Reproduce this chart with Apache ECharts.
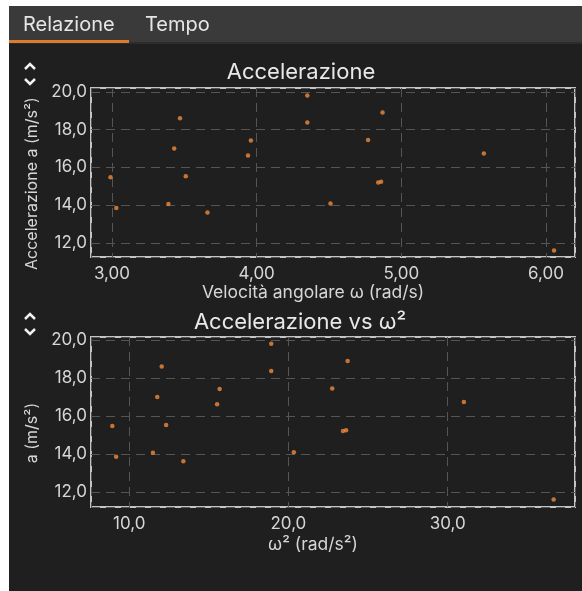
<!DOCTYPE html>
<html>
<head>
<meta charset="utf-8">
<script src="https://cdn.jsdelivr.net/npm/echarts@6/dist/echarts.min.js"></script>
<style>
  html, body { margin: 0; padding: 0; background: #fff; }
  #main { width: 582px; height: 591px; }
</style>
</head>
<body>
<div id="main"></div>
<script>
'use strict';
// values (omega in rad/s, a in m/s^2, omega^2 in rad^2/s^2)
const omega  = [2.99, 3.03, 3.47, 3.43, 3.51, 3.39, 3.66, 3.96, 3.94, 4.35, 4.35, 4.87, 4.77, 5.57, 4.84, 4.86, 4.51, 6.055];
const accel  = [15.47, 13.85, 18.60, 17.00, 15.52, 14.06, 13.61, 17.42, 16.62, 19.80, 18.37, 18.90, 17.45, 16.73, 15.20, 15.24, 14.08, 11.60];
const omega2 = [8.94, 9.18, 12.04, 11.76, 12.32, 11.49, 13.40, 15.68, 15.52, 18.92, 18.92, 23.72, 22.75, 31.02, 23.43, 23.62, 20.34, 36.66];
const tabs = ['Relazione', 'Tempo'];
const titles = ['Accelerazione', 'Accelerazione vs ω²'];

let dom = document.getElementById('main');
let myChart = echarts.init(dom, null, { renderer: 'canvas' });

const labelColor = '#d6d6d6';
const fontFamily = 'Inter, "Noto Sans", sans-serif';

function comma(d) {
    return function (v) { return v.toFixed(d).replace('.', ','); };
}

function axisX(idx, min, max, step, dec, name, gap, pad) {
    return {
        gridIndex: idx,
        type: 'value',
        min: min,
        max: max,
        minInterval: step,
        maxInterval: step,
        name: name,
        nameLocation: 'middle',
        nameGap: gap,
        nameTextStyle: { color: labelColor, fontSize: 17.5, fontFamily: fontFamily, padding: [0, pad, 0, 0] },
        axisLine: { show: false },
        axisTick: { show: false },
        axisLabel: { color: labelColor, fontSize: 17, fontFamily: fontFamily, margin: 8,
            showMinLabel: false, showMaxLabel: false, formatter: comma(dec) },
        splitLine: { show: true, lineStyle: { color: '#555', type: [9, 6], width: 1 } }
    };
}

function axisY(idx, min, max, name) {
    return {
        gridIndex: idx,
        type: 'value',
        min: min,
        max: max,
        minInterval: 2,
        maxInterval: 2,
        name: name,
        nameLocation: 'middle',
        nameGap: 48,
        nameTextStyle: { color: labelColor, fontSize: 16, fontFamily: fontFamily, padding: [0, 22, 0, 0] },
        axisLine: { show: false },
        axisTick: { show: false },
        axisLabel: { color: labelColor, fontSize: 17, fontFamily: fontFamily, margin: 4,
            showMinLabel: false, showMaxLabel: false, formatter: comma(1) },
        splitLine: { show: true, lineStyle: { color: '#555', type: [9, 6], width: 1 } }
    };
}

function chevrons(y) {
    return [
        { type: 'polyline', shape: { points: [[25, y + 3], [30, y - 2], [35, y + 3]] },
          style: { stroke: '#f2f2f2', lineWidth: 2.5, fill: null } },
        { type: 'polyline', shape: { points: [[25, y + 13], [30, y + 18], [35, y + 13]] },
          style: { stroke: '#f2f2f2', lineWidth: 2.5, fill: null } }
    ];
}

let option = {
    backgroundColor: '#ffffff',
    animation: false,
    graphic: [
        { type: 'rect', z: -10, shape: { x: 9, y: 6, width: 573, height: 585 }, style: { fill: '#1f1f1f' } },
        { type: 'rect', z: -9, shape: { x: 9, y: 6, width: 573, height: 36 }, style: { fill: '#3a3a3a' } },
        { type: 'rect', z: -9, shape: { x: 9, y: 42, width: 573, height: 2 }, style: { fill: '#2c2c2c' } },
        { type: 'rect', z: -8, shape: { x: 9, y: 40, width: 120, height: 3 }, style: { fill: '#e07a2c' } },
        { type: 'text', x: 23, y: 25, style: { text: tabs[0], fill: '#e6e6e6', font: '20px ' + fontFamily, textVerticalAlign: 'middle' } },
        { type: 'text', x: 145, y: 25, style: { text: tabs[1], fill: '#e6e6e6', font: '20px ' + fontFamily, textVerticalAlign: 'middle' } },
        { type: 'text', x: 301, y: 72, style: { text: titles[0], fill: '#e8e8e8', font: '22px ' + fontFamily, textAlign: 'center', textVerticalAlign: 'middle' } },
        { type: 'text', x: 300, y: 322, style: { text: titles[1], fill: '#e8e8e8', font: '22px ' + fontFamily, textAlign: 'center', textVerticalAlign: 'middle' } }
    ].concat(chevrons(66), chevrons(316)),
    grid: [
        { left: 91, right: 7, top: 88, height: 169, show: true, borderColor: '#c4c4c4', borderWidth: 2, backgroundColor: 'transparent' },
        { left: 91, right: 7, top: 337, height: 170, show: true, borderColor: '#c4c4c4', borderWidth: 2, backgroundColor: 'transparent' }
    ],
    xAxis: [
        axisX(0, 2.855, 6.2, 1, 2, 'Velocità angolare ω (rad/s)', 27, 40),
        axisX(1, 7.6, 38.0, 10, 1, 'ω² (rad/s²)', 29, 40)
    ],
    yAxis: [
        axisY(0, 11.25, 20.2, 'Accelerazione a (m/s²)'),
        axisY(1, 11.2, 20.16, 'a (m/s²)')
    ],
    series: [
        {
            type: 'scatter',
            xAxisIndex: 0, yAxisIndex: 0,
            symbolSize: 4.5,
            itemStyle: { color: '#f08a3c' },
            data: omega.map((w, i) => [w, accel[i]])
        },
        {
            type: 'scatter',
            xAxisIndex: 1, yAxisIndex: 1,
            symbolSize: 4.5,
            itemStyle: { color: '#f08a3c' },
            data: omega2.map((w, i) => [w, accel[i]])
        }
    ]
};

if (option && typeof option === 'object') {
    myChart.setOption(option, true);
}
</script>
</body>
</html>
